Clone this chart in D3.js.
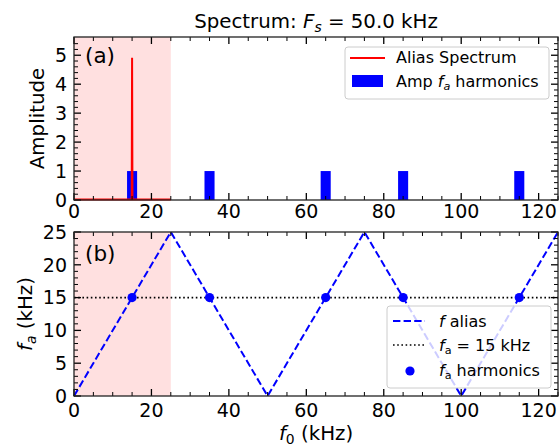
<!DOCTYPE html>
<html><head><meta charset="utf-8">
<script src="https://cdn.jsdelivr.net/npm/d3@7"></script>
<style>body{margin:0;background:#fff}svg{display:block}text{font-family:"DejaVu Sans",sans-serif;fill:#000}</style>
</head><body>
<script>
// ---- data ----
const harmonicFreqs = [15, 35, 65, 85, 115];
const harmonicAmps = [1, 1, 1, 1, 1];
const aliasSpecF = [0, 14.9, 15, 15.1, 25];
const aliasSpecA = [0, 0, 4.9, 0, 0];
const aliasF0 = [0, 25, 50, 75, 100, 125];
const aliasFa = [0, 25, 0, 25, 0, 25];
const faTarget = 15;
const harmonicFa = [15, 15, 15, 15, 15];
const nyquist = 25;
const xTicks = [0, 20, 40, 60, 80, 100, 120];
const yTicksA = [0, 1, 2, 3, 4, 5];
const yTicksB = [0, 5, 10, 15, 20, 25];

const W = 559, H = 447;
const svg = d3.select("body").append("svg").attr("width", W).attr("height", H);
const L = 74, R = 558;
const x = d3.scaleLinear().domain([0, 125]).range([L, R]);
const yA = d3.scaleLinear().domain([0, 5.63]).range([200, 37]);
const yB = d3.scaleLinear().domain([0, 25]).range([396, 232]);
const FS = 19;
const LFS = 19.8;
const LEG = 16;

function frame(y, yTicks, yMinor, tickLabY) {
  const g = svg.append("g");
  const [b, t] = y.range();
  const minorX = d3.range(0, 126, 5).filter(v => v % 20 !== 0);
  const tk = (x1, y1, x2, y2, w) => g.append("line").attr("x1", x1).attr("y1", y1).attr("x2", x2).attr("y2", y2).attr("stroke", "#000").attr("stroke-width", w);
  xTicks.forEach(v => { tk(x(v), b, x(v), b - 7, 1.3); tk(x(v), t, x(v), t + 7, 1.3); });
  minorX.forEach(v => { tk(x(v), b, x(v), b - 4, 1); tk(x(v), t, x(v), t + 4, 1); });
  yTicks.forEach(v => { tk(L, y(v), L + 7, y(v), 1.3); tk(R, y(v), R - 7, y(v), 1.3); });
  yMinor.forEach(v => { tk(L, y(v), L + 4, y(v), 1); tk(R, y(v), R - 4, y(v), 1); });
  g.append("rect").attr("x", L).attr("y", t).attr("width", R - L).attr("height", b - t)
    .attr("fill", "none").attr("stroke", "#222").attr("stroke-width", 1.3);
  xTicks.forEach(v => g.append("text").attr("x", x(v)).attr("y", tickLabY).attr("text-anchor", "middle").attr("font-size", FS).text(v));
  yTicks.forEach(v => g.append("text").attr("x", 67).attr("y", y(v) + 0.36 * FS).attr("text-anchor", "end").attr("font-size", FS).text(v));
}

// ---- panel (a) ----
svg.append("rect").attr("x", x(0)).attr("y", yA(5.63)).attr("width", x(nyquist) - x(0)).attr("height", yA(0) - yA(5.63)).attr("fill", "#ffe0e0");
const bw = x(2.6) - x(0);
svg.selectAll(".bar").data(harmonicFreqs).enter().append("rect")
  .attr("x", d => x(d) - bw / 2).attr("y", (d, i) => yA(harmonicAmps[i]))
  .attr("width", bw).attr("height", (d, i) => yA(0) - yA(harmonicAmps[i])).attr("fill", "#0000ff");
svg.append("path").datum(aliasSpecF.map((f, i) => [f, aliasSpecA[i]]))
  .attr("d", d3.line().x(d => x(d[0])).y(d => yA(d[1]) - 0.5)).attr("fill", "none").attr("stroke", "#ff0000").attr("stroke-width", 2);
frame(yA, yTicksA, d3.range(0, 5.6, 0.2).filter(v => Math.abs(v - Math.round(v)) > 0.01), 218);
svg.append("text").attr("x", 85).attr("y", 63).attr("font-size", 21.5).text("(a)");

// legend (a)
const la = svg.append("g");
la.append("rect").attr("x", 345).attr("y", 47).attr("width", 204).attr("height", 52).attr("rx", 3)
  .attr("fill", "#fff").attr("fill-opacity", 0.8).attr("stroke", "#ccc");
la.append("line").attr("x1", 350).attr("x2", 385).attr("y1", 58).attr("y2", 58).attr("stroke", "#ff0000").attr("stroke-width", 2);
la.append("text").attr("x", 396).attr("y", 63).attr("font-size", LEG).text("Alias Spectrum");
la.append("rect").attr("x", 352).attr("y", 75).attr("width", 31).attr("height", 12).attr("fill", "#0000ff");
const t2 = la.append("text").attr("x", 396).attr("y", 87).attr("font-size", LEG);
t2.append("tspan").text("Amp ");
t2.append("tspan").attr("font-style", "italic").text("f");
t2.append("tspan").attr("font-style", "italic").attr("font-size", 11.2).attr("dy", 3).text("a");
t2.append("tspan").attr("dy", -3).text(" harmonics");

// title
const tt = svg.append("text").attr("x", 316).attr("y", 27.5).attr("text-anchor", "middle").attr("font-size", LFS);
tt.append("tspan").text("Spectrum: ");
tt.append("tspan").attr("font-style", "italic").text("F");
tt.append("tspan").attr("font-style", "italic").attr("font-size", 13.9).attr("dy", 4).text("s");
tt.append("tspan").attr("dy", -4).text(" = 50.0 kHz");

svg.append("text").attr("transform", "translate(44,118.5) rotate(-90)").attr("text-anchor", "middle").attr("font-size", LFS).text("Amplitude");

// ---- panel (b) ----
svg.append("rect").attr("x", x(0)).attr("y", yB(25)).attr("width", x(nyquist) - x(0)).attr("height", yB(0) - yB(25)).attr("fill", "#ffe0e0");
svg.append("line").attr("x1", x(0)).attr("x2", x(125)).attr("y1", yB(faTarget)).attr("y2", yB(faTarget))
  .attr("stroke", "#000").attr("stroke-width", 1.6).attr("stroke-dasharray", "1.6,2.6");
svg.append("path").datum(aliasF0.map((f, i) => [f, aliasFa[i]]))
  .attr("d", d3.line().x(d => x(d[0])).y(d => yB(d[1]))).attr("fill", "none").attr("stroke", "#0000ff")
  .attr("stroke-width", 2).attr("stroke-dasharray", "7.4,3.2");
svg.selectAll(".dot").data(harmonicFreqs).enter().append("circle")
  .attr("cx", d => x(d)).attr("cy", (d, i) => yB(harmonicFa[i])).attr("r", 4.6).attr("fill", "#0000ff");
frame(yB, yTicksB, d3.range(0, 25, 1).filter(v => v % 5 !== 0), 416.5);
svg.append("text").attr("x", 85).attr("y", 261).attr("font-size", 21.5).text("(b)");

// legend (b)
const lb = svg.append("g");
lb.append("rect").attr("x", 387).attr("y", 306).attr("width", 164).attr("height", 82).attr("rx", 3)
  .attr("fill", "#fff").attr("fill-opacity", 0.8).attr("stroke", "#ccc");
lb.append("line").attr("x1", 393).attr("x2", 425).attr("y1", 321).attr("y2", 321).attr("stroke", "#0000ff").attr("stroke-width", 2).attr("stroke-dasharray", "7.4,3.2");
lb.append("line").attr("x1", 393).attr("x2", 425).attr("y1", 345).attr("y2", 345).attr("stroke", "#000").attr("stroke-width", 1.6).attr("stroke-dasharray", "1.6,2.6");
lb.append("circle").attr("cx", 410).attr("cy", 371).attr("r", 4.6).attr("fill", "#0000ff");
const b1 = lb.append("text").attr("x", 439).attr("y", 327).attr("font-size", LEG);
b1.append("tspan").attr("font-style", "italic").text("f");
b1.append("tspan").text(" alias");
const b2 = lb.append("text").attr("x", 439).attr("y", 351).attr("font-size", LEG);
b2.append("tspan").attr("font-style", "italic").text("f");
b2.append("tspan").attr("font-size", 11.2).attr("dy", 3).text("a");
b2.append("tspan").attr("dy", -3).text(" = 15 kHz");
const b3 = lb.append("text").attr("x", 439).attr("y", 376).attr("font-size", LEG);
b3.append("tspan").attr("font-style", "italic").text("f");
b3.append("tspan").attr("font-size", 11.2).attr("dy", 3).text("a");
b3.append("tspan").attr("dy", -3).text(" harmonics");

const yb = svg.append("text").attr("transform", "translate(32,314) rotate(-90)").attr("text-anchor", "middle").attr("font-size", LFS);
yb.append("tspan").attr("font-style", "italic").text("f");
yb.append("tspan").attr("font-style", "italic").attr("font-size", 13.9).attr("dy", 4).text("a");
yb.append("tspan").attr("dy", -4).text(" (kHz)");

const xl = svg.append("text").attr("x", 316).attr("y", 440).attr("text-anchor", "middle").attr("font-size", LFS);
xl.append("tspan").attr("font-style", "italic").text("f");
xl.append("tspan").attr("font-size", 13.9).attr("dy", 4).text("0");
xl.append("tspan").attr("dy", -4).text(" (kHz)");
</script>
</body></html>
